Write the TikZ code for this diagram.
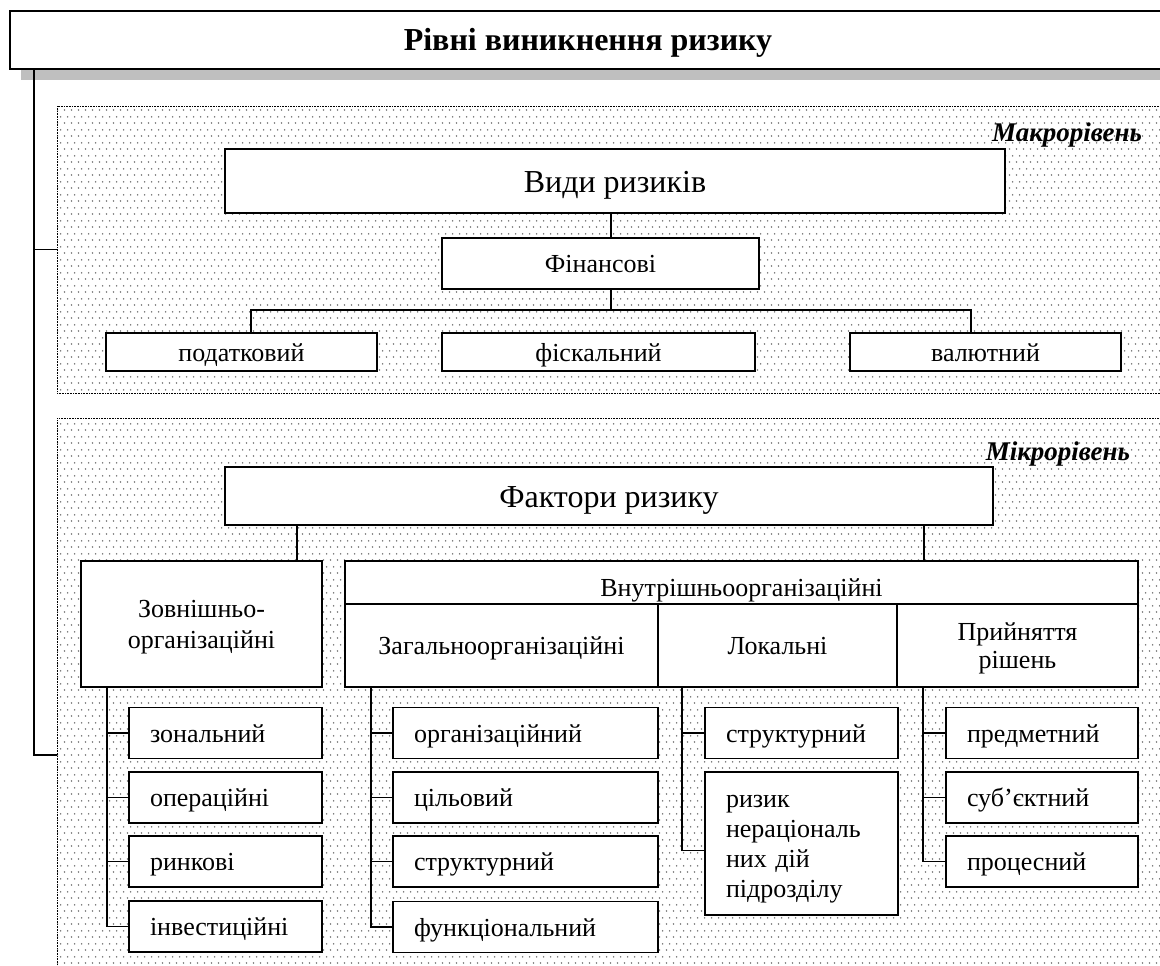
\documentclass[tikz,border=0pt]{standalone}
\usepackage{fontspec}
\setmainfont{Liberation Serif}
\usetikzlibrary{patterns.meta,shadows}

% light grey stipple used as the background of both level panels
\tikzdeclarepattern{
  name=stipple,
  type=colored,
  bottom left={(0pt,0pt)},
  top right={(7pt,12.6pt)},
  tile size={(7pt,12.6pt)},
  code={
    \fill[black!55] (1.75pt,3.15pt) circle (0.95pt);
    \fill[black!55] (5.25pt,9.45pt) circle (0.95pt);
  }
}

\begin{document}
\begin{tikzpicture}[x=1pt,y=-1pt,
  every node/.style={inner sep=0pt, outer sep=0pt},
  region/.style={draw, line width=0.7pt, dash pattern=on 0.8pt off 0.8pt, pattern={stipple}},
  box/.style={draw, line width=1.8pt, fill=white, align=center,
              font=\fontsize{26}{30}\selectfont},
  oneline/.style={text height=18pt, text depth=0pt},
  bigbox/.style={box, font=\fontsize{32}{36}\selectfont, text height=22pt, text depth=0pt},
  lbox/.style={box, align=left, inner xsep=21pt, minimum height=51pt},
  lvl/.style={font=\bfseries\itshape\fontsize{27}{30}\selectfont},
  wire/.style={line width=1.8pt},
]
\useasboundingbox (0,0) rectangle (1160,966);
\clip (0,0) rectangle (1160,966);

% level panels
\node[region, minimum width=1118pt, minimum height=287pt] (macro) at (616,249.5) {};
\node[region, minimum width=1118pt, minimum height=674pt] (micro) at (616,755) {};
\node[lvl, anchor=base east] (macrolbl) at (1142,141) {Макрорівень};
\node[lvl, anchor=base east] (microlbl) at (1130,460) {Мікрорівень};

% heading with its shadow
\node[draw, line width=2.2pt, fill=white, minimum width=1156pt, minimum height=58pt,
      font=\bfseries\fontsize{32}{36}\selectfont, text height=22pt, text depth=0pt,
      drop shadow={shadow xshift=11pt, shadow yshift=-11pt, opacity=1, fill=black!25}]
      (title) at (588,40) {Рівні виникнення ризику};

% bracket joining the heading to both levels
\coordinate (brk) at ([xshift=24pt]title.south west);
\draw[wire] (brk) |- (macro.west);
\draw[wire] (brk) |- (micro.west);

% ---- macro level ----
\node[bigbox, minimum width=780pt, minimum height=64pt] (vydy) at (615,181) {Види ризиків};
\node[box, oneline, minimum width=317pt, minimum height=51pt] (fin) at (600.5,263.5) {Фінансові};
\node[box, oneline, minimum width=271pt, minimum height=38pt] (pod) at (241.5,352) {податковий};
\node[box, oneline, minimum width=313pt, minimum height=38pt] (fisk) at (598.5,352) {фіскальний};
\node[box, oneline, minimum width=271pt, minimum height=38pt] (val) at (985.5,352) {валютний};

\coordinate (bus) at (611,310);
\coordinate (busL) at (251,310);
\coordinate (busR) at (971,310);
\draw[wire] (vydy.south -| bus) -- (fin.north -| bus);
\draw[wire] (fin.south -| bus) -- (bus);
\draw[wire] (busL |- pod.north) -- (busL) -- (busR) -- (busR |- val.north);

% ---- micro level ----
\node[bigbox, minimum width=768pt, minimum height=58pt] (fakt) at (609,496) {Фактори ризику};
\node[box, minimum width=241pt, minimum height=126pt, font=\fontsize{26}{31}\selectfont,
      text height=48pt, text depth=0pt] (zov) at (201.5,624) {Зовнішньо-\\організаційні};
\node[box, minimum width=793pt, minimum height=43pt, text height=28pt, text depth=0pt]
      (vnut) at (741.5,582.5) {Внутрішньоорганізаційні};
\node[box, oneline, minimum width=313pt, minimum height=83pt] (zag) at (501.5,645.5) {Загальноорганізаційні};
\node[box, oneline, minimum width=239pt, minimum height=83pt] (lok) at (777.5,645.5) {Локальні};
\node[box, minimum width=241pt, minimum height=83pt, font=\fontsize{26}{28}\selectfont,
      text height=45pt, text depth=0pt] (pry) at (1017.5,645.5) {Прийняття\\рішень};

\draw[wire] ([xshift=72pt]fakt.south west) coordinate (fa) -- (fa |- zov.north);
\draw[wire] ([xshift=699pt]fakt.south west) coordinate (fb) -- (fb |- vnut.north);

% external factors
\node[lbox, oneline, text width=151pt] (zon) at (225.5,733) {зональний};
\node[lbox, oneline, text width=151pt] (oper) at (225.5,797.5) {операційні};
\node[lbox, oneline, text width=151pt] (rynk) at (225.5,861.5) {ринкові};
\node[lbox, oneline, text width=151pt] (inv) at (225.5,926.5) {інвестиційні};
\coordinate (tz) at ([xshift=26pt]zov.south west);
\foreach \c in {zon,oper,rynk,inv} \draw[wire] (tz) |- (\c.west);

% general organisational factors
\node[lbox, oneline, text width=223pt] (org) at (525.5,733) {організаційний};
\node[lbox, oneline, text width=223pt] (cil) at (525.5,797.5) {цільовий};
\node[lbox, oneline, text width=223pt] (str) at (525.5,861.5) {структурний};
\node[lbox, oneline, text width=223pt] (fun) at (525.5,927) {функціональний};
\coordinate (tg) at ([xshift=26pt]zag.south west);
\foreach \c in {org,cil,str,fun} \draw[wire] (tg) |- (\c.west);

% local factors
\node[lbox, oneline, text width=151pt] (lstr) at (801.5,733) {структурний};
\node[lbox, text width=151pt, minimum height=143pt, text height=18pt, text depth=91pt]
      (riz) at (801.5,843.5) {ризик\\нераціональ\\них дій\\підрозділу};
\coordinate (tl) at ([xshift=24pt]lok.south west);
\draw[wire] (tl) |- (lstr.west);
\draw[wire] (tl) |- ([yshift=-7pt]riz.west);

% decision-making factors
\node[lbox, oneline, text width=150pt] (pred) at (1042,733) {предметний};
\node[lbox, oneline, text width=150pt] (sub) at (1042,797.5) {суб’єктний};
\node[lbox, oneline, text width=150pt] (proc) at (1042,861.5) {процесний};
\coordinate (tp) at ([xshift=26pt]pry.south west);
\foreach \c in {pred,sub,proc} \draw[wire] (tp) |- (\c.west);
\end{tikzpicture}
\end{document}
